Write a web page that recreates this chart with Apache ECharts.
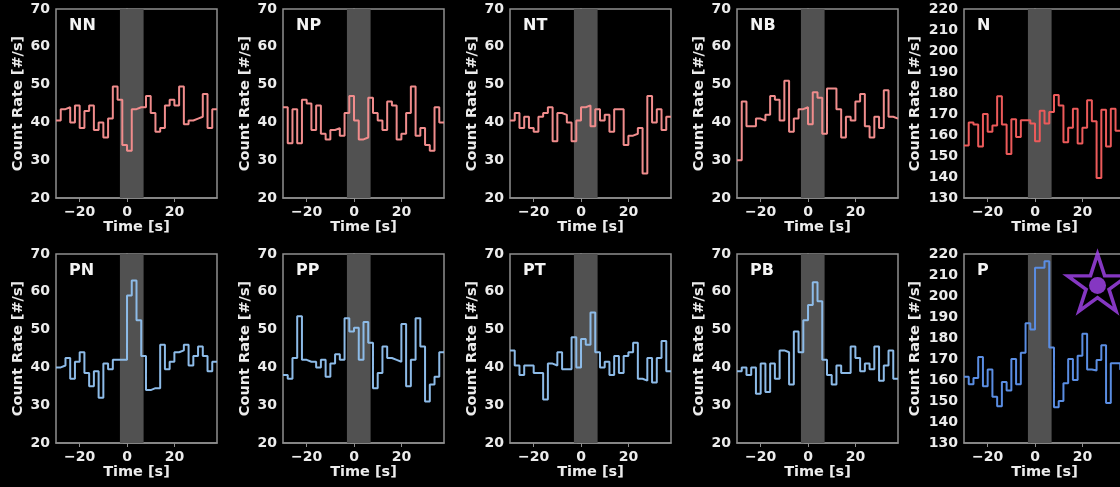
<!DOCTYPE html>
<html>
<head>
<meta charset="utf-8">
<script src="https://cdn.jsdelivr.net/npm/echarts@6/dist/echarts.min.js"></script>
<style>
  html, body { margin: 0; padding: 0; background: #000; }
  #chart { width: 1120px; height: 487px; }
</style>
</head>
<body>
<div id="chart"></div>
<script>
// bin edges [s], every bin is 2 s wide
const binEdges = [-30, -28, -26, -24, -22, -20, -18, -16, -14, -12, -10, -8, -6, -4, -2,
  0, 2, 4, 6, 8, 10, 12, 14, 16, 18, 20, 22, 24, 26, 28, 30, 32, 34, 36, 38];

// count rate per bin [#/s]
const nnRate = [40.5, 43.5, 44, 40, 44.5, 38.5, 43, 44.5, 38, 40, 36, 41, 49.5, 46, 34, 32.5, 43.5,
  44, 44, 47, 42.5, 37.5, 38.5, 44.5, 46, 44.5, 49.5, 39.5, 40.5, 41, 41.5, 47.5, 38.5, 43.5];
const npRate = [44, 34.5, 43.5, 34.5, 46, 45, 38, 44.5, 37, 35.5, 38, 38.5, 36.5, 42.5, 47, 40.5, 35.5,
  36, 46.5, 42.5, 40.5, 38, 45.5, 44.5, 35.5, 37, 42.5, 49.5, 36.5, 38.5, 34, 32.5, 44, 40];
const ntRate = [40.5, 42.5, 38.5, 41.5, 38.5, 37.5, 41.5, 42.5, 44, 35, 42.5, 42, 40, 35, 40.5, 44, 44.5,
  39, 43.5, 40.5, 42, 37.5, 43.5, 43.5, 34, 36.5, 37, 38.5, 26.5, 47, 40, 43.5, 38, 41.5];
const nbRate = [30, 45.5, 39, 39, 41, 40.5, 42, 47, 46, 40.5, 51, 37.5, 41, 43.5, 44, 39.5, 48,
  46.5, 37, 49, 49, 43.5, 36, 41.5, 40.5, 45.5, 47.5, 39, 36, 41.5, 38.5, 48.5, 41.5, 41];
const nRate = [155, 166, 165, 154.5, 170, 161.5, 164.5, 178.5, 165, 151, 167.5, 159, 167, 167, 165.5, 157, 171.5,
  165.5, 171, 179, 174, 156.5, 163.5, 172.5, 156, 163.5, 176.5, 166.5, 139.5, 172, 154.5, 172.5, 162, 162];
const pnRate = [40, 40.5, 42.5, 37, 41.5, 44, 38.5, 35, 39, 32, 41, 39.5, 42, 42, 42, 59, 63,
  52.5, 43, 34, 34.5, 34.5, 46, 39.5, 41.5, 44, 44.5, 46, 40.5, 43, 45.5, 43, 39, 41.5];
const ppRate = [38, 37, 42.5, 53.5, 42, 41.5, 41.5, 40, 42, 37.5, 41, 43.5, 42, 53, 49.5, 50.5, 42,
  52, 46.5, 34.5, 38.5, 45.5, 42.5, 42, 41.5, 51.5, 35, 42, 53, 45.5, 31, 35.5, 37.5, 44];
const ptRate = [44.5, 40.5, 38, 40.5, 40.5, 38.5, 38.5, 31.5, 41, 40.5, 44, 39.5, 39.5, 48, 40, 47.5, 46,
  54.5, 44, 40, 41.5, 38, 43, 38.5, 43, 44, 46.5, 37, 36.5, 42.5, 36, 42.5, 47, 39];
const pbRate = [39, 40, 38, 40, 33, 41, 33.5, 41, 37, 44.5, 44, 35.5, 49.5, 44, 52.5, 56.5, 62.5,
  57.5, 42, 38, 35.5, 40.5, 38.5, 38.5, 45.5, 42.5, 39, 41, 39.5, 45.5, 36.5, 40.5, 44.5, 37];
const pRate = [161.5, 158, 161, 171, 157, 165, 152, 147.5, 159, 155, 170, 158, 173, 187, 184, 213.5, 213.5,
  216.5, 175.5, 147, 150, 158.5, 170, 160, 171.5, 182, 165, 164.5, 169.5, 176.5, 149, 168, 168, 165];

const panelNames = ['NN', 'NP', 'NT', 'NB', 'N', 'PN', 'PP', 'PT', 'PB', 'P'];
const panelRates = [nnRate, npRate, ntRate, nbRate, nRate, pnRate, ppRate, ptRate, pbRate, pRate];
const smallRange = [20, 70];
const sumRange = [130, 220];
const xTicks = [-20, 0, 20];
const burstWindow = [-3, 7];
const starPos = [26.4, 206.4];

const frameColor = '#8f8f8f';
const textColor = '#ececec';
const font = 'DejaVu Sans';

const colLeft = [56, 283, 510, 737, 964];
const rowTop = [9, 254];
const plotW = 161, plotH = 189;

const chart = echarts.init(document.getElementById('chart'));

const grid = [], xAxis = [], yAxis = [], series = [], title = [];

panelNames.forEach((name, i) => {
  const row = Math.floor(i / 5), col = i % 5;
  const isSum = col === 4;
  const range = isSum ? sumRange : smallRange;
  let color;
  if (row === 0) color = isSum ? '#ec5a5a' : '#f08c8c';
  else color = isSum ? '#5a8de2' : '#8dbbe8';

  grid.push({
    left: colLeft[col], top: rowTop[row], width: plotW, height: plotH,
    outerBoundsMode: 'none', containLabel: false,
    show: true, borderColor: frameColor, borderWidth: 1.5, backgroundColor: 'transparent'
  });

  xAxis.push({
    type: 'value', gridIndex: i, min: -30, max: 38,
    name: 'Time [s]', nameLocation: 'middle', nameGap: 22,
    nameTextStyle: { color: textColor, fontFamily: font, fontWeight: 'bold', fontSize: 14.5 },
    axisLine: { show: true, lineStyle: { color: frameColor, width: 1.5 } },
    axisTick: { show: true, length: 4, customValues: xTicks, lineStyle: { color: frameColor } },
    axisLabel: {
      color: textColor, fontFamily: font, fontWeight: 'bold', fontSize: 14, margin: 7,
      customValues: xTicks,
      formatter: v => (v < 0 ? '\u2212' + Math.abs(v) : String(v))
    },
    splitLine: { show: false }
  });

  yAxis.push({
    type: 'value', gridIndex: i, min: range[0], max: range[1], interval: 10,
    name: 'Count Rate [#/s]', nameLocation: 'middle', nameGap: isSum ? 41 : 30,
    nameTextStyle: { color: textColor, fontFamily: font, fontWeight: 'bold', fontSize: 14.5 },
    axisLine: { show: true, lineStyle: { color: frameColor, width: 1.5 } },
    axisTick: { show: true, length: 4, lineStyle: { color: frameColor } },
    axisLabel: { color: textColor, fontFamily: font, fontWeight: 'bold', fontSize: 14, margin: 6 },
    splitLine: { show: false }
  });

  const rates = panelRates[i];
  const pts = binEdges.map((e, k) => [e, rates[Math.min(k, rates.length - 1)]]);

  series.push({
    type: 'line', xAxisIndex: i, yAxisIndex: i,
    step: 'end', data: pts, symbol: 'none',
    lineStyle: { color: color, width: 2 },
    markArea: {
      silent: true,
      itemStyle: { color: '#515151' },
      data: [[{ xAxis: burstWindow[0] }, { xAxis: burstWindow[1] }]]
    },
    animation: false
  });

  title.push({
    text: name, left: colLeft[col] + 13, top: rowTop[row] + 9, padding: 0,
    textStyle: { color: '#f4f4f4', fontFamily: font, fontWeight: 'bold', fontSize: 16 }
  });
});

// purple star marker in the P panel
const starPath = 'path://M0,-50 L11.23,-15.45 L47.55,-15.45 L18.17,5.9 L29.39,40.45 L0,19.1 L-29.39,40.45 L-18.17,5.9 L-47.55,-15.45 L-11.23,-15.45 Z';
series.push({
  type: 'scatter', xAxisIndex: 9, yAxisIndex: 9, clip: false, silent: true, z: 5,
  data: [starPos], symbol: starPath, symbolSize: [60, 57],
  itemStyle: { color: 'rgba(0,0,0,0)', borderColor: '#a645f2', borderWidth: 3.5 },
  animation: false
});
series.push({
  type: 'scatter', xAxisIndex: 9, yAxisIndex: 9, clip: false, silent: true, z: 6,
  data: [[starPos[0], starPos[1] - 1.4]], symbol: 'circle', symbolSize: 17,
  itemStyle: { color: '#a645f2' },
  animation: false
});

chart.setOption({
  backgroundColor: '#000',
  animation: false,
  title: title,
  grid: grid,
  xAxis: xAxis,
  yAxis: yAxis,
  series: series
});
</script>
</body>
</html>
